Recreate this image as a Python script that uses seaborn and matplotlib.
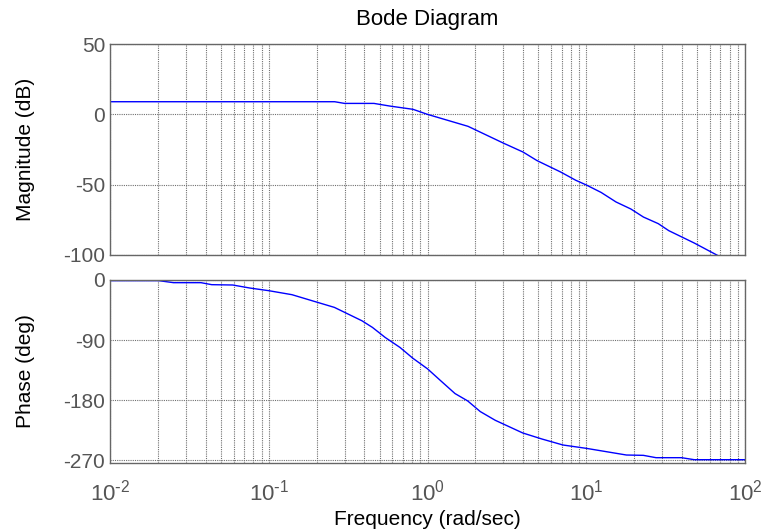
import numpy as np
import pandas as pd
import matplotlib
matplotlib.use("Agg")
import matplotlib.pyplot as plt
import seaborn as sns

# Magnitude curve (rad/sec, dB)
mag_freq = [0.01, 0.26, 0.30, 0.46, 0.58, 0.81, 1.0, 1.8, 3.0, 4.0, 4.9, 6.9, 8.6,
            10.0, 12.4, 15.4, 19.1, 22.9, 28.4, 33.1, 47.9, 69.0]
mag_db = [9.0, 9.0, 7.8, 7.8, 5.9, 3.6, 0.0, -8.5, -20.4, -26.8, -32.9, -41.0, -46.9,
          -50.2, -55.5, -62.3, -67.3, -73.0, -77.7, -82.7, -91.5, -101.0]

# Phase curve (rad/sec, deg)
phase_freq = [0.01, 0.0203, 0.0251, 0.0374, 0.0437, 0.0593, 0.0759, 0.1, 0.14, 0.203,
              0.259, 0.386, 0.45, 0.541, 0.671, 0.807, 1.0, 1.2, 1.49, 1.79, 2.15,
              2.67, 3.98, 5.25, 7.13, 10.0, 17.9, 22.9, 27.5, 39.8, 47.9, 100.0]
phase_deg = [-1, -1, -4, -4, -7, -7.5, -12, -16, -22, -33.5,
             -41, -61, -71, -86, -101, -117, -133, -150, -170, -181, -197,
             -210, -229, -238, -247, -252, -262, -262.5, -266, -266, -269, -269]

mag_ticks = [50, 0, -50, -100]
phase_ticks = [0, -90, -180, -270]
freq_ticks = [0.01, 0.1, 1, 10, 100]
freq_labels = [r"$10^{\text{-}2}$", r"$10^{\text{-}1}$", "$10^{0}$", "$10^{1}$", "$10^{2}$"]

mag_df = pd.DataFrame({"freq": mag_freq, "mag": mag_db})
phase_df = pd.DataFrame({"freq": phase_freq, "phase": phase_deg})

sns.set_style("white")
plt.rcParams["font.family"] = ["Liberation Sans", "DejaVu Sans"]
plt.rcParams["mathtext.default"] = "regular"
plt.rcParams["axes.unicode_minus"] = False

fig = plt.figure(figsize=(7.62, 5.31), dpi=100)
ax1 = fig.add_axes([0.1444, 0.5198, 0.8333, 0.3972])
ax2 = fig.add_axes([0.1444, 0.128, 0.8333, 0.3447])

tick_gray = "#555555"
grid_gray = "#707070"
fs = 15

sns.lineplot(data=mag_df, x="freq", y="mag", ax=ax1, color="blue", linewidth=1)
sns.lineplot(data=phase_df, x="freq", y="phase", ax=ax2, color="blue", linewidth=1)

for ax in (ax1, ax2):
    ax.set_xscale("log")
    ax.set_xlim(0.01, 100)
    ax.grid(True, which="major", color=grid_gray, linestyle=(0, (1, 1)), linewidth=0.8)
    ax.grid(True, which="minor", axis="x", color=grid_gray, linestyle=(0, (1, 1)), linewidth=0.8)
    ax.tick_params(which="both", direction="in", length=3, colors="#666666",
                   labelsize=fs, labelcolor=tick_gray)
    for s in ax.spines.values():
        s.set_color("#666666")
        s.set_linewidth(1)

ax1.set_ylim(-100, 50)
ax1.set_yticks(mag_ticks)
ax1.tick_params(axis="x", which="both", labelbottom=False)
ax1.set_xlabel("")
ax1.set_ylabel("Magnitude (dB)", fontsize=fs, color="black")
ax1.set_title("Bode Diagram", fontsize=fs + 1, color="black", pad=14)

ax2.set_ylim(-274, 0)
ax2.set_yticks(phase_ticks)
ax2.set_xticks(freq_ticks)
ax2.set_xticklabels(freq_labels, fontsize=fs + 1)
ax2.tick_params(axis="x", which="major", pad=12)
ax2.set_ylabel("Phase (deg)", fontsize=fs, color="black")
ax2.set_xlabel("Frequency (rad/sec)", fontsize=fs, color="black", labelpad=3)

ax1.yaxis.set_label_coords(-0.118, 0.5)
ax2.yaxis.set_label_coords(-0.118, 0.5)

fig.savefig("out.png", dpi=100)
